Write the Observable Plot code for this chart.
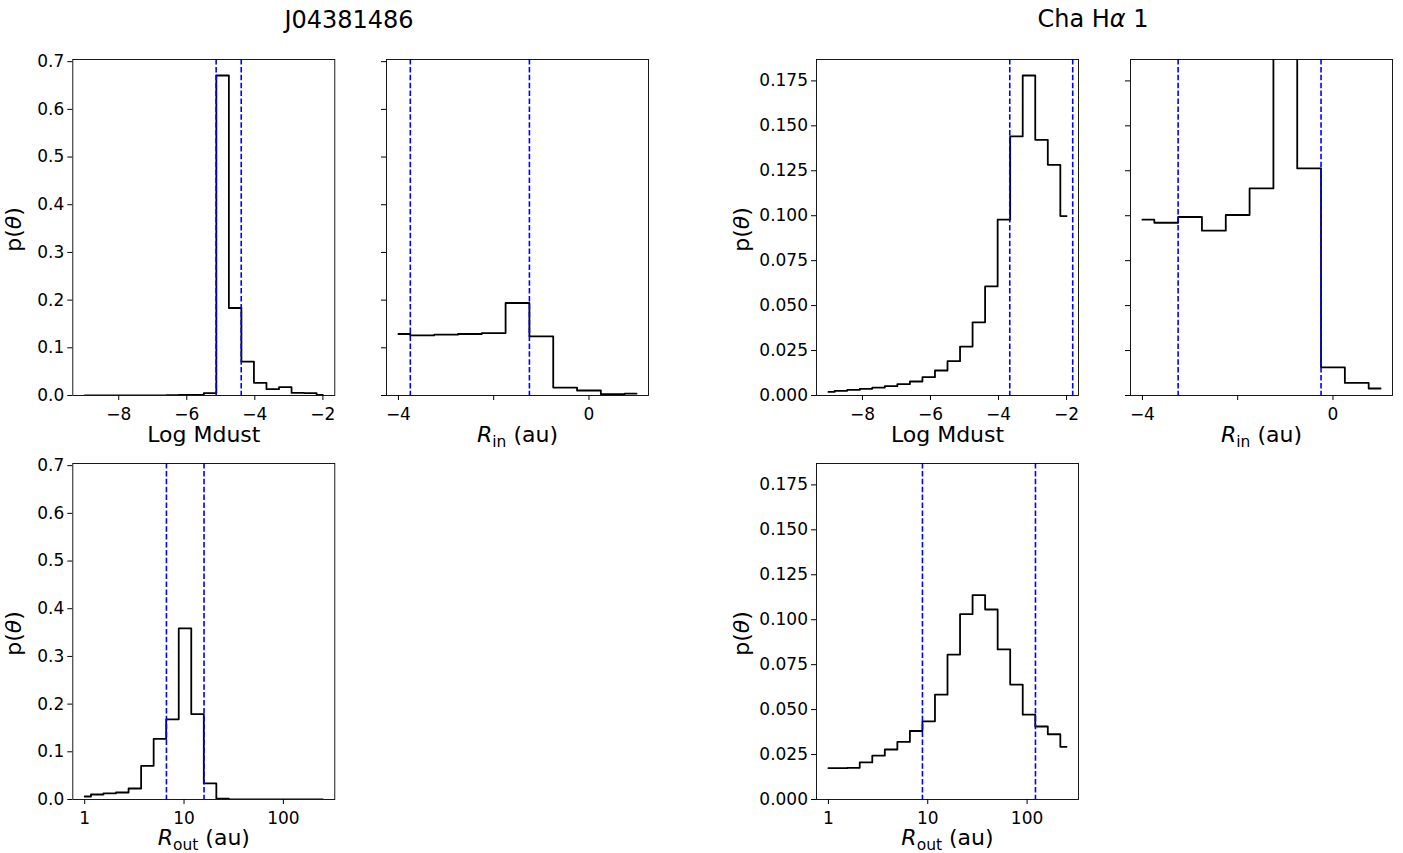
<!DOCTYPE html>
<html><head><meta charset="utf-8">
<script src="https://cdn.jsdelivr.net/npm/d3@7"></script>
<script src="https://cdn.jsdelivr.net/npm/@observablehq/plot@0.6"></script>
<style>
body{margin:0;background:#fff;font-family:"DejaVu Sans",sans-serif;}
#fig{position:relative;width:1403px;height:853px;overflow:hidden;background:#fff;}
.title{position:absolute;font-size:24px;line-height:1;color:#000;transform:translate(-50%,-50%);white-space:nowrap;font-family:"DejaVu Sans",sans-serif;}
.panel{position:absolute;overflow:visible;}
</style></head><body><div id="fig"></div>
<script>
// ---- bin centres (x) ----
const mdustBins = [-9.000,-8.632,-8.263,-7.895,-7.526,-7.158,-6.789,-6.421,-6.053,-5.684,-5.316,-4.947,-4.579,-4.211,-3.842,-3.474,-3.105,-2.737,-2.368,-2.000];
const rinBins = [-4.0,-3.5,-3.0,-2.5,-2.0,-1.5,-1.0,-0.5,0.0,0.5,1.0];
const routBins = [1.000,1.337,1.788,2.391,3.198,4.276,5.718,7.647,10.23,13.67,18.29,24.45,32.70,43.73,58.48,78.20,104.6,139.8,187.0,250.0];

// ---- J04381486 posteriors ----
const jMdust = [0.0002,0.0002,0.0002,0.0002,0.0003,0.0003,0.0004,0.0006,0.0010,0.0014,0.0050,0.671,0.1835,0.0712,0.0265,0.0133,0.0174,0.0056,0.0050,0.0014];
const jRin = [0.129,0.126,0.1275,0.129,0.131,0.194,0.124,0.0167,0.0105,0.0028,0.0040];
const jRout = [0.0063,0.0105,0.0130,0.0147,0.0230,0.0706,0.127,0.168,0.359,0.179,0.0336,0.0020,0.0004,0.0003,0.0003,0.0002,0.0002,0.0002,0.0002,0.0002];
const jMdustCI = [-5.137,-4.40];
const jRinCI = [-3.75,-1.25];
const jRoutCI = [6.65,15.9];

// ---- Cha Hα 1 posteriors ----
const cMdust = [0.0020,0.0026,0.0031,0.0037,0.0044,0.0052,0.0063,0.0078,0.0102,0.0139,0.0191,0.0272,0.0407,0.0607,0.0978,0.1441,0.178,0.1422,0.1283,0.0998];
const cRin = [0.0978,0.0961,0.0993,0.0917,0.1004,0.1152,0.246,0.1263,0.0157,0.0070,0.0039];
const cRout = [0.0174,0.0174,0.0176,0.0206,0.0244,0.0278,0.0320,0.0381,0.0435,0.0583,0.0806,0.1031,0.1137,0.1057,0.0835,0.0639,0.0472,0.0406,0.0363,0.0293];
const cMdustCI = [-3.67,-1.82];
const cRinCI = [-3.25,-0.25];
const cRoutCI = [8.85,121.5];

// ---- text / ticks ----
const titles = ["J04381486", "Cha H<i>α</i> 1"];
const yLabel = "p(θ)";
const xLabels = {mdust: "Log Mdust", rin: "R_in (au)", rout: "R_out (au)"};
const mdustTicks = [-8,-6,-4,-2];
const rinTicks = [-4,-2,0];
const rinTickLabels = ["−4","","0"];
const routTicks = [1,10,100];
const jYTicks = [0,0.1,0.2,0.3,0.4,0.5,0.6,0.7];
const cYTicks = [0,0.025,0.05,0.075,0.1,0.125,0.15,0.175];

const fig = document.getElementById("fig");
const minus = d => d < 0 ? "\u2212" + Math.abs(d) : String(d);

function linDomain(a){const lo=d3.min(a),hi=d3.max(a),s=hi-lo;return [lo-0.05*s,hi+0.05*s];}
function logDomain(a){const lo=Math.log10(d3.min(a)),hi=Math.log10(d3.max(a)),s=hi-lo;return [10**(lo-0.05*s),10**(hi+0.05*s)];}

function richify(svg){
  d3.select(svg).selectAll("text").each(function(){
    const t = this.textContent;
    const s = d3.select(this);
    const m = t.match(/^R_(in|out) \(au\)$/);
    if (m){
      s.text(null);
      s.append("tspan").attr("font-style","italic").text("R");
      s.append("tspan").attr("font-size","15.5px").attr("dy","5").text(m[1]);
      s.append("tspan").attr("dy","-5").text(" (au)");
    } else if (t === "p(θ)"){
      s.text(null);
      s.append("tspan").text("p(");
      s.append("tspan").attr("font-style","italic").text("θ");
      s.append("tspan").text(")");
    }
  });
}

function panel(o){
  const W = 262, H = 336, mRight = 11, mTop = 10, mBottom = 58;
  const data = o.bins.map((b,i)=>({x:b, y:o.values[i]}));
  const marks = [
    Plot.line(data, {x:"x", y:"y", curve:"step", stroke:"black", strokeWidth:1.8, clip:true}),
    Plot.ruleX(o.ci, {stroke:"blue", strokeWidth:1.6, strokeDasharray:"5.5,2.4"}),
    Plot.axisX({ticks:o.xTicks, tickFormat:o.xFmt, tickSize:5, tickPadding:7, label:null, fontSize:17}),
    Plot.axisY({ticks:o.yTicks, tickFormat:o.yFmt, tickSize:5, tickPadding:3.5, label:null, fontSize:17}),
    Plot.text([o.xLabel], {frameAnchor:"bottom", dy:o.xLabelDy, text:d=>d, fontSize:22, lineAnchor:"middle"}),
    Plot.frame({stroke:"black", strokeWidth:0.9})
  ];
  if (o.showYLabel) marks.push(Plot.text([yLabel], {frameAnchor:"left", dx:o.yLabelDx, dy:2, rotate:-90, text:d=>d, fontSize:22, textAnchor:"middle", lineAnchor:"middle"}));
  const svg = Plot.plot({
    width: o.mLeft + W + mRight, height: mTop + H + mBottom,
    marginLeft: o.mLeft, marginRight: mRight, marginTop: mTop, marginBottom: mBottom,
    style: {fontFamily:"DejaVu Sans", fontSize:"17px", color:"black", background:"transparent", overflow:"visible"},
    x: o.xType === "log" ? {type:"log", domain:o.xDomain} : {domain:o.xDomain},
    y: {domain:[0, o.yTop]},
    marks
  });
  richify(svg);
  svg.classList.add("panel");
  svg.style.left = (o.frameLeft - o.mLeft) + "px";
  svg.style.top = (o.frameTop - mTop) + "px";
  fig.appendChild(svg);
}

const jTop = d3.max(jMdust) * 1.05;
const cTop = d3.max(cMdust) * 1.05;
const jFmt = d3.format(".1f"), cFmt = d3.format(".3f");
const noFmt = () => "";
const rinFmt = d => rinTickLabels[rinTicks.indexOf(d)];
const routFmt = d => String(d);

const rowTop = [58.5, 462.7];
const specs = [
  {bins:mdustBins, values:jMdust, ci:jMdustCI, xDomain:linDomain(mdustBins), xTicks:mdustTicks, xFmt:minus, xLabel:xLabels.mdust,
   yTop:jTop, yTicks:jYTicks, yFmt:jFmt, showYLabel:true, frameLeft:72.3, frameTop:rowTop[0], mLeft:72.3, yLabelDx:-59, xLabelDy:39.5},
  {bins:rinBins, values:jRin, ci:jRinCI, xDomain:linDomain(rinBins), xTicks:rinTicks, xFmt:rinFmt, xLabel:xLabels.rin,
   yTop:jTop, yTicks:jYTicks, yFmt:noFmt, showYLabel:false, frameLeft:385.7, frameTop:rowTop[0], mLeft:40, xLabelDy:39.5},
  {bins:routBins, values:jRout, ci:jRoutCI, xType:"log", xDomain:logDomain(routBins), xTicks:routTicks, xFmt:routFmt, xLabel:xLabels.rout,
   yTop:jTop, yTicks:jYTicks, yFmt:jFmt, showYLabel:true, frameLeft:72.3, frameTop:rowTop[1], mLeft:72.3, yLabelDx:-59, xLabelDy:38},
  {bins:mdustBins, values:cMdust, ci:cMdustCI, xDomain:linDomain(mdustBins), xTicks:mdustTicks, xFmt:minus, xLabel:xLabels.mdust,
   yTop:cTop, yTicks:cYTicks, yFmt:cFmt, showYLabel:true, frameLeft:815.7, frameTop:rowTop[0], mLeft:90, yLabelDx:-75, xLabelDy:39.5},
  {bins:rinBins, values:cRin, ci:cRinCI, xDomain:linDomain(rinBins), xTicks:rinTicks, xFmt:rinFmt, xLabel:xLabels.rin,
   yTop:cTop, yTicks:cYTicks, yFmt:noFmt, showYLabel:false, frameLeft:1129.7, frameTop:rowTop[0], mLeft:40, xLabelDy:39.5},
  {bins:routBins, values:cRout, ci:cRoutCI, xType:"log", xDomain:logDomain(routBins), xTicks:routTicks, xFmt:routFmt, xLabel:xLabels.rout,
   yTop:cTop, yTicks:cYTicks, yFmt:cFmt, showYLabel:true, frameLeft:815.7, frameTop:rowTop[1], mLeft:90, yLabelDx:-75, xLabelDy:38}
];
specs.forEach(panel);

[[titles[0], 349, 20], [titles[1], 1093, 19]].forEach(([t,x,y])=>{
  const d = document.createElement("div");
  d.className = "title"; d.innerHTML = t;
  d.style.left = x + "px"; d.style.top = y + "px";
  fig.appendChild(d);
});
</script></body></html>
